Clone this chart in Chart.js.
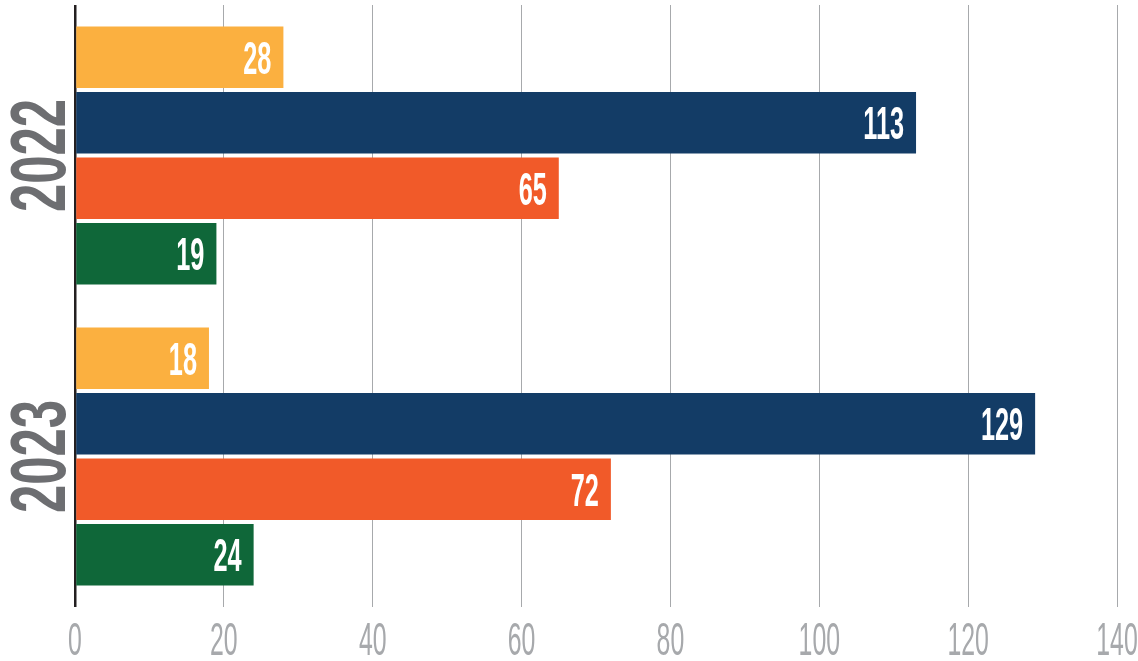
<!DOCTYPE html>
<html>
<head>
<meta charset="utf-8">
<script src="https://cdn.jsdelivr.net/npm/chart.js@4"></script>
<style>
  html, body { margin: 0; padding: 0; background: #fff; }
  #wrap { width: 1138px; height: 661px; position: relative; }
</style>
</head>
<body>
<div id="wrap"><canvas id="barChart"></canvas></div>
<script>
// --- Données ---
const years = ['2022', '2023'];
const serieA = [28, 18];    // jaune
const serieB = [113, 129];  // bleu
const serieC = [65, 72];    // orange
const serieD = [19, 24];    // vert
const xTicks = [0, 20, 40, 60, 80, 100, 120, 140];

const colors = ['#fbb040', '#133c66', '#f15a29', '#0f6739'];

// texte étroit (police condensée simulée)
function narrowText(ctx, txt, x, y, sx, align) {
  ctx.save();
  ctx.translate(x, y);
  ctx.scale(sx, 1);
  ctx.textAlign = align;
  ctx.fillText(txt, 0, 0);
  ctx.restore();
}

const labelsPlugin = {
  id: 'labels',
  afterDatasetsDraw(chart) {
    const ctx = chart.ctx;
    // valeurs dans les barres
    ctx.save();
    ctx.fillStyle = '#ffffff';
    ctx.font = 'bold 46px "Liberation Sans", Arial, sans-serif';
    ctx.textBaseline = 'alphabetic';
    chart.data.datasets.forEach((ds, i) => {
      chart.getDatasetMeta(i).data.forEach((bar, j) => {
        narrowText(ctx, String(ds.data[j]), bar.x - 12, bar.y + 16.5, 0.55, 'right');
      });
    });
    ctx.restore();

    // années à gauche, tournées
    const yScale = chart.scales.y;
    ctx.save();
    ctx.fillStyle = '#6d6e71';
    ctx.font = 'bold 77px "Liberation Sans", Arial, sans-serif';
    ctx.textBaseline = 'alphabetic';
    years.forEach((yr, i) => {
      const yc = yScale.getPixelForValue(i);
      ctx.save();
      ctx.translate(37, yc);
      ctx.rotate(-Math.PI / 2);
      narrowText(ctx, yr, 0, 27.5, 0.66, 'center');
      ctx.restore();
    });
    ctx.restore();

    // graduations de l'axe x
    const xScale = chart.scales.x;
    ctx.save();
    ctx.fillStyle = '#a7a9ac';
    ctx.font = '46px "Liberation Sans", Arial, sans-serif';
    ctx.textBaseline = 'alphabetic';
    xTicks.forEach(v => {
      narrowText(ctx, String(v), xScale.getPixelForValue(v), 655, 0.54, 'center');
    });
    ctx.restore();
  }
};

new Chart(document.getElementById('barChart'), {
  type: 'bar',
  data: {
    labels: years,
    datasets: [
      { label: 'A', data: serieA, backgroundColor: colors[0] },
      { label: 'B', data: serieB, backgroundColor: colors[1] },
      { label: 'C', data: serieC, backgroundColor: colors[2] },
      { label: 'D', data: serieD, backgroundColor: colors[3] }
    ]
  },
  options: {
    indexAxis: 'y',
    responsive: true,
    maintainAspectRatio: false,
    animation: false,
    datasets: {
      bar: { categoryPercentage: 0.87, barPercentage: 0.94 }
    },
    layout: { padding: { left: 75, right: 21, top: 5, bottom: 54 } },
    plugins: {
      legend: { display: false },
      tooltip: { enabled: false }
    },
    scales: {
      x: {
        min: 0,
        max: 140,
        ticks: { display: false, stepSize: 20 },
        border: { display: false },
        grid: {
          drawTicks: false,
          color: ctx => ctx.tick && ctx.tick.value === 0 ? '#231f20' : '#a7a9ac',
          lineWidth: ctx => ctx.tick && ctx.tick.value === 0 ? 2.5 : 1
        }
      },
      y: {
        display: false
      }
    }
  },
  plugins: [labelsPlugin]
});
</script>
</body>
</html>
